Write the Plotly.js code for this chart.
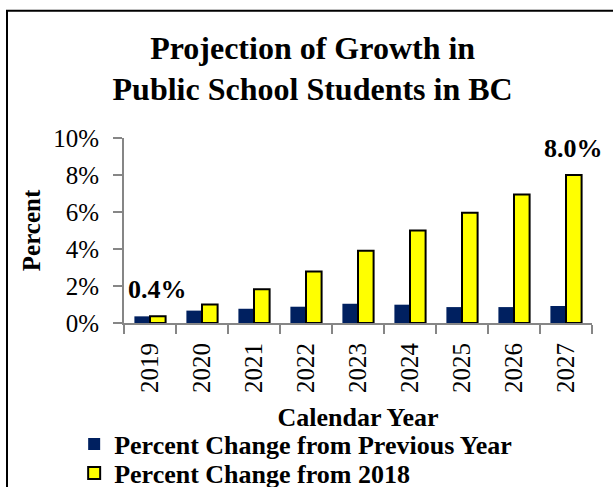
<!DOCTYPE html>
<html>
<head>
<meta charset="utf-8">
<script src="https://cdn.plot.ly/plotly-3.0.1.min.js"></script>
<style>
  html, body { margin: 0; padding: 0; background: #fff; }
  #chart { width: 613px; height: 487px; }
</style>
</head>
<body>
<div id="chart"></div>
<script>
const years = ['2019', '2020', '2021', '2022', '2023', '2024', '2025', '2026', '2027'];
const changeFromPrevious = [0.36, 0.67, 0.77, 0.88, 1.04, 0.99, 0.86, 0.86, 0.92];
const changeFrom2018 = [0.36, 1.00, 1.82, 2.79, 3.91, 5.00, 5.96, 6.95, 8.00];
const labelledIndexes = [0, 8];
const seriesNames = ['Percent Change from Previous Year', 'Percent Change from 2018'];
const yTickValues = [0, 2, 4, 6, 8, 10];
const yTickLabels = ['0%', '2%', '4%', '6%', '8%', '10%'];

const serif = '"Liberation Serif", "Times New Roman", Times, serif';

const traces = [
  {
    type: 'bar',
    name: seriesNames[0],
    x: years,
    y: changeFromPrevious,
    marker: { color: '#002060', line: { width: 0 } },
    legend: 'legend',
    hoverinfo: 'skip'
  },
  {
    type: 'bar',
    name: seriesNames[1],
    x: years,
    y: changeFrom2018,
    marker: { color: '#FFFF00', line: { color: '#000000', width: 2 } },
    legend: 'legend2',
    hoverinfo: 'skip'
  }
];

const valueAnnotations = labelledIndexes.map(i => ({
  x: i,
  y: changeFrom2018[i],
  xref: 'x',
  yref: 'y',
  text: changeFrom2018[i].toFixed(1) + '%',
  showarrow: false,
  xanchor: 'center',
  yanchor: 'bottom',
  xshift: 7.5,
  yshift: 10,
  font: { family: serif, size: 26, color: '#000', weight: 'bold' }
}));

const legendFont = { family: serif, size: 26, color: '#000', weight: 'bold' };
function legendAt(yPaper) {
  return {
    orientation: 'v',
    x: -0.1065,
    xanchor: 'left',
    y: yPaper,
    yanchor: 'middle',
    font: legendFont,
    itemwidth: 30,
    tracegroupgap: 0,
    bgcolor: 'rgba(0,0,0,0)',
    borderwidth: 0
  };
}

const layout = {
  width: 613,
  height: 487,
  margin: { l: 124, r: 21, t: 138, b: 164, pad: 0, autoexpand: false },
  paper_bgcolor: '#ffffff',
  plot_bgcolor: '#ffffff',
  font: { family: serif, color: '#000' },
  title: {
    text: 'Projection of Growth in<br>Public School Students in BC',
    font: { family: serif, size: 32, color: '#000', weight: 'bold' },
    x: 0.51,
    xanchor: 'center',
    y: 1 - 58.5 / 487,
    yanchor: 'middle'
  },
  barmode: 'group',
  bargap: 0.40,
  bargroupgap: 0,
  showlegend: true,
  legend: legendAt((323 - 444) / 185),
  legend2: legendAt((323 - 473) / 185),
  xaxis: {
    type: 'category',
    range: [-0.5, years.length - 0.5],
    showline: true,
    linecolor: '#868686',
    linewidth: 2,
    ticks: 'outside',
    tickson: 'boundaries',
    ticklen: 9,
    tickwidth: 2,
    tickcolor: '#868686',
    tickangle: -90,
    ticklabelstandoff: 8,
    tickfont: { family: serif, size: 25, color: '#000' },
    showgrid: false,
    zeroline: false,
    automargin: false,
    title: {
      text: 'Calendar Year',
      font: { family: serif, size: 26, color: '#000', weight: 'bold' },
      standoff: 16
    }
  },
  yaxis: {
    range: [0, 10],
    tickmode: 'array',
    tickvals: yTickValues,
    ticktext: yTickLabels,
    showline: true,
    linecolor: '#868686',
    linewidth: 2,
    ticks: 'outside',
    ticklen: 9,
    tickwidth: 2,
    tickcolor: '#868686',
    ticklabelstandoff: 9,
    tickfont: { family: serif, size: 25, color: '#000' },
    showgrid: false,
    zeroline: false,
    automargin: false,
    title: {
      text: 'Percent',
      font: { family: serif, size: 25, color: '#000', weight: 'bold' },
      standoff: 5
    }
  },
  annotations: valueAnnotations,
  shapes: [
    {
      type: 'rect',
      xref: 'paper',
      yref: 'paper',
      x0: -0.25,
      x1: 1.3,
      y0: -1.3,
      y1: 1.688,
      line: { color: '#000', width: 2 },
      fillcolor: 'rgba(0,0,0,0)',
      layer: 'above'
    }
  ]
};

Plotly.newPlot('chart', traces, layout, { displayModeBar: false, staticPlot: true });
</script>
</body>
</html>
